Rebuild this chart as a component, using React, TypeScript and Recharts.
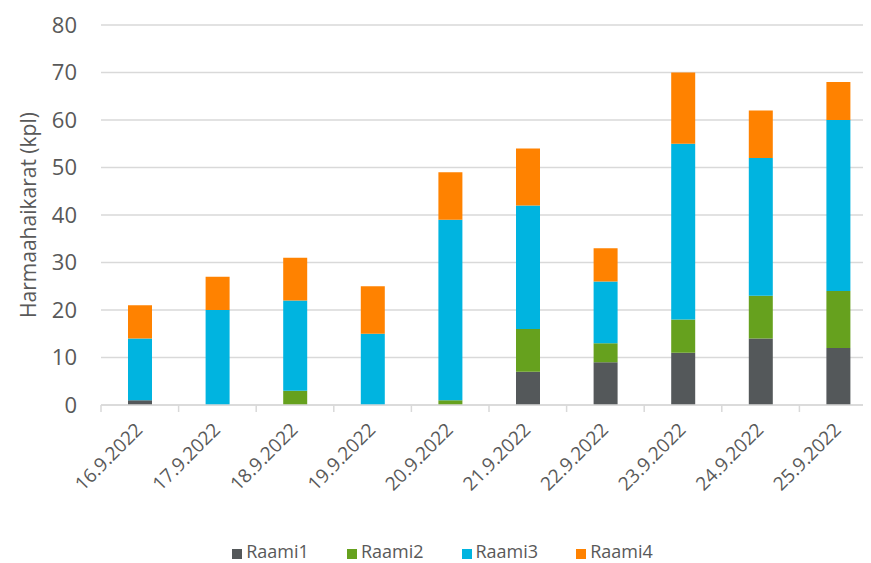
import React from 'react';
import { BarChart, Bar, XAxis, YAxis, CartesianGrid, Legend } from 'recharts';

const categories = ['16.9.2022', '17.9.2022', '18.9.2022', '19.9.2022', '20.9.2022', '21.9.2022', '22.9.2022', '23.9.2022', '24.9.2022', '25.9.2022'];
const raami1 = [1, 0, 0, 0, 0, 7, 9, 11, 14, 12];
const raami2 = [0, 0, 3, 0, 1, 9, 4, 7, 9, 12];
const raami3 = [13, 20, 19, 15, 38, 26, 13, 37, 29, 36];
const raami4 = [7, 7, 9, 10, 10, 12, 7, 15, 10, 8];
const yTicks = [0, 10, 20, 30, 40, 50, 60, 70, 80];

const data = categories.map((c, i) => ({
  name: c,
  Raami1: raami1[i],
  Raami2: raami2[i],
  Raami3: raami3[i],
  Raami4: raami4[i],
}));

const FONT = '"Open Sans", sans-serif';
const TEXT = '#595959';
const GRID = '#d9d9d9';

const XTick = (props: any) => {
  const { x, y, payload } = props;
  const half = 38.8;
  return (
    <g>
      <line x1={x - half} y1={y - 8} x2={x - half} y2={y - 1} stroke={GRID} strokeWidth={1.5} />
      <text
        x={x + 4}
        y={y + 18}
        textAnchor="end"
        transform={`rotate(-45 ${x + 4} ${y + 18})`}
        fill={TEXT}
        fontSize={19}
        fontFamily={FONT}
      >
        {payload.value}
      </text>
    </g>
  );
};

const legendFormatter = (value: string) => (
  <span style={{ color: TEXT, fontSize: 18, fontFamily: FONT, marginRight: 28 }}>{value}</span>
);

export default function App() {
  return (
    <div style={{ width: 863, height: 555, overflow: 'hidden', position: 'relative' }}>
      <BarChart
        width={872}
        height={555}
        data={data}
        margin={{ top: 17, right: 3, left: 0, bottom: 0 }}
        barSize={24}
      >
        <CartesianGrid vertical={false} stroke={GRID} strokeWidth={1.5} />
        <XAxis
          dataKey="name"
          height={131}
          tickLine={false}
          axisLine={{ stroke: GRID, strokeWidth: 1.5 }}
          tick={<XTick />}
          interval={0}
        />
        <YAxis
          width={93}
          domain={[0, 80]}
          ticks={yTicks}
          tickLine={false}
          axisLine={false}
          tickSize={0}
          tickMargin={24}
          tick={{ fill: TEXT, fontSize: 22, fontFamily: FONT }}
          label={{
            value: 'Harmaahaikarat (kpl)',
            angle: -90,
            position: 'insideLeft',
            offset: 21,
            style: { fill: TEXT, fontSize: 21, fontFamily: FONT, textAnchor: 'middle' },
          }}
        />
        <Legend
          verticalAlign="bottom"
          iconType="square"
          iconSize={10}
          formatter={legendFormatter}
          wrapperStyle={{ fontFamily: FONT, top: 530, bottom: 'auto', left: 19, lineHeight: '26px' }}
        />
        <Bar dataKey="Raami1" stackId="a" fill="#54585a" isAnimationActive={false} />
        <Bar dataKey="Raami2" stackId="a" fill="#66a11e" isAnimationActive={false} />
        <Bar dataKey="Raami3" stackId="a" fill="#00b4e0" isAnimationActive={false} />
        <Bar dataKey="Raami4" stackId="a" fill="#ff8200" isAnimationActive={false} />
      </BarChart>
    </div>
  );
}
